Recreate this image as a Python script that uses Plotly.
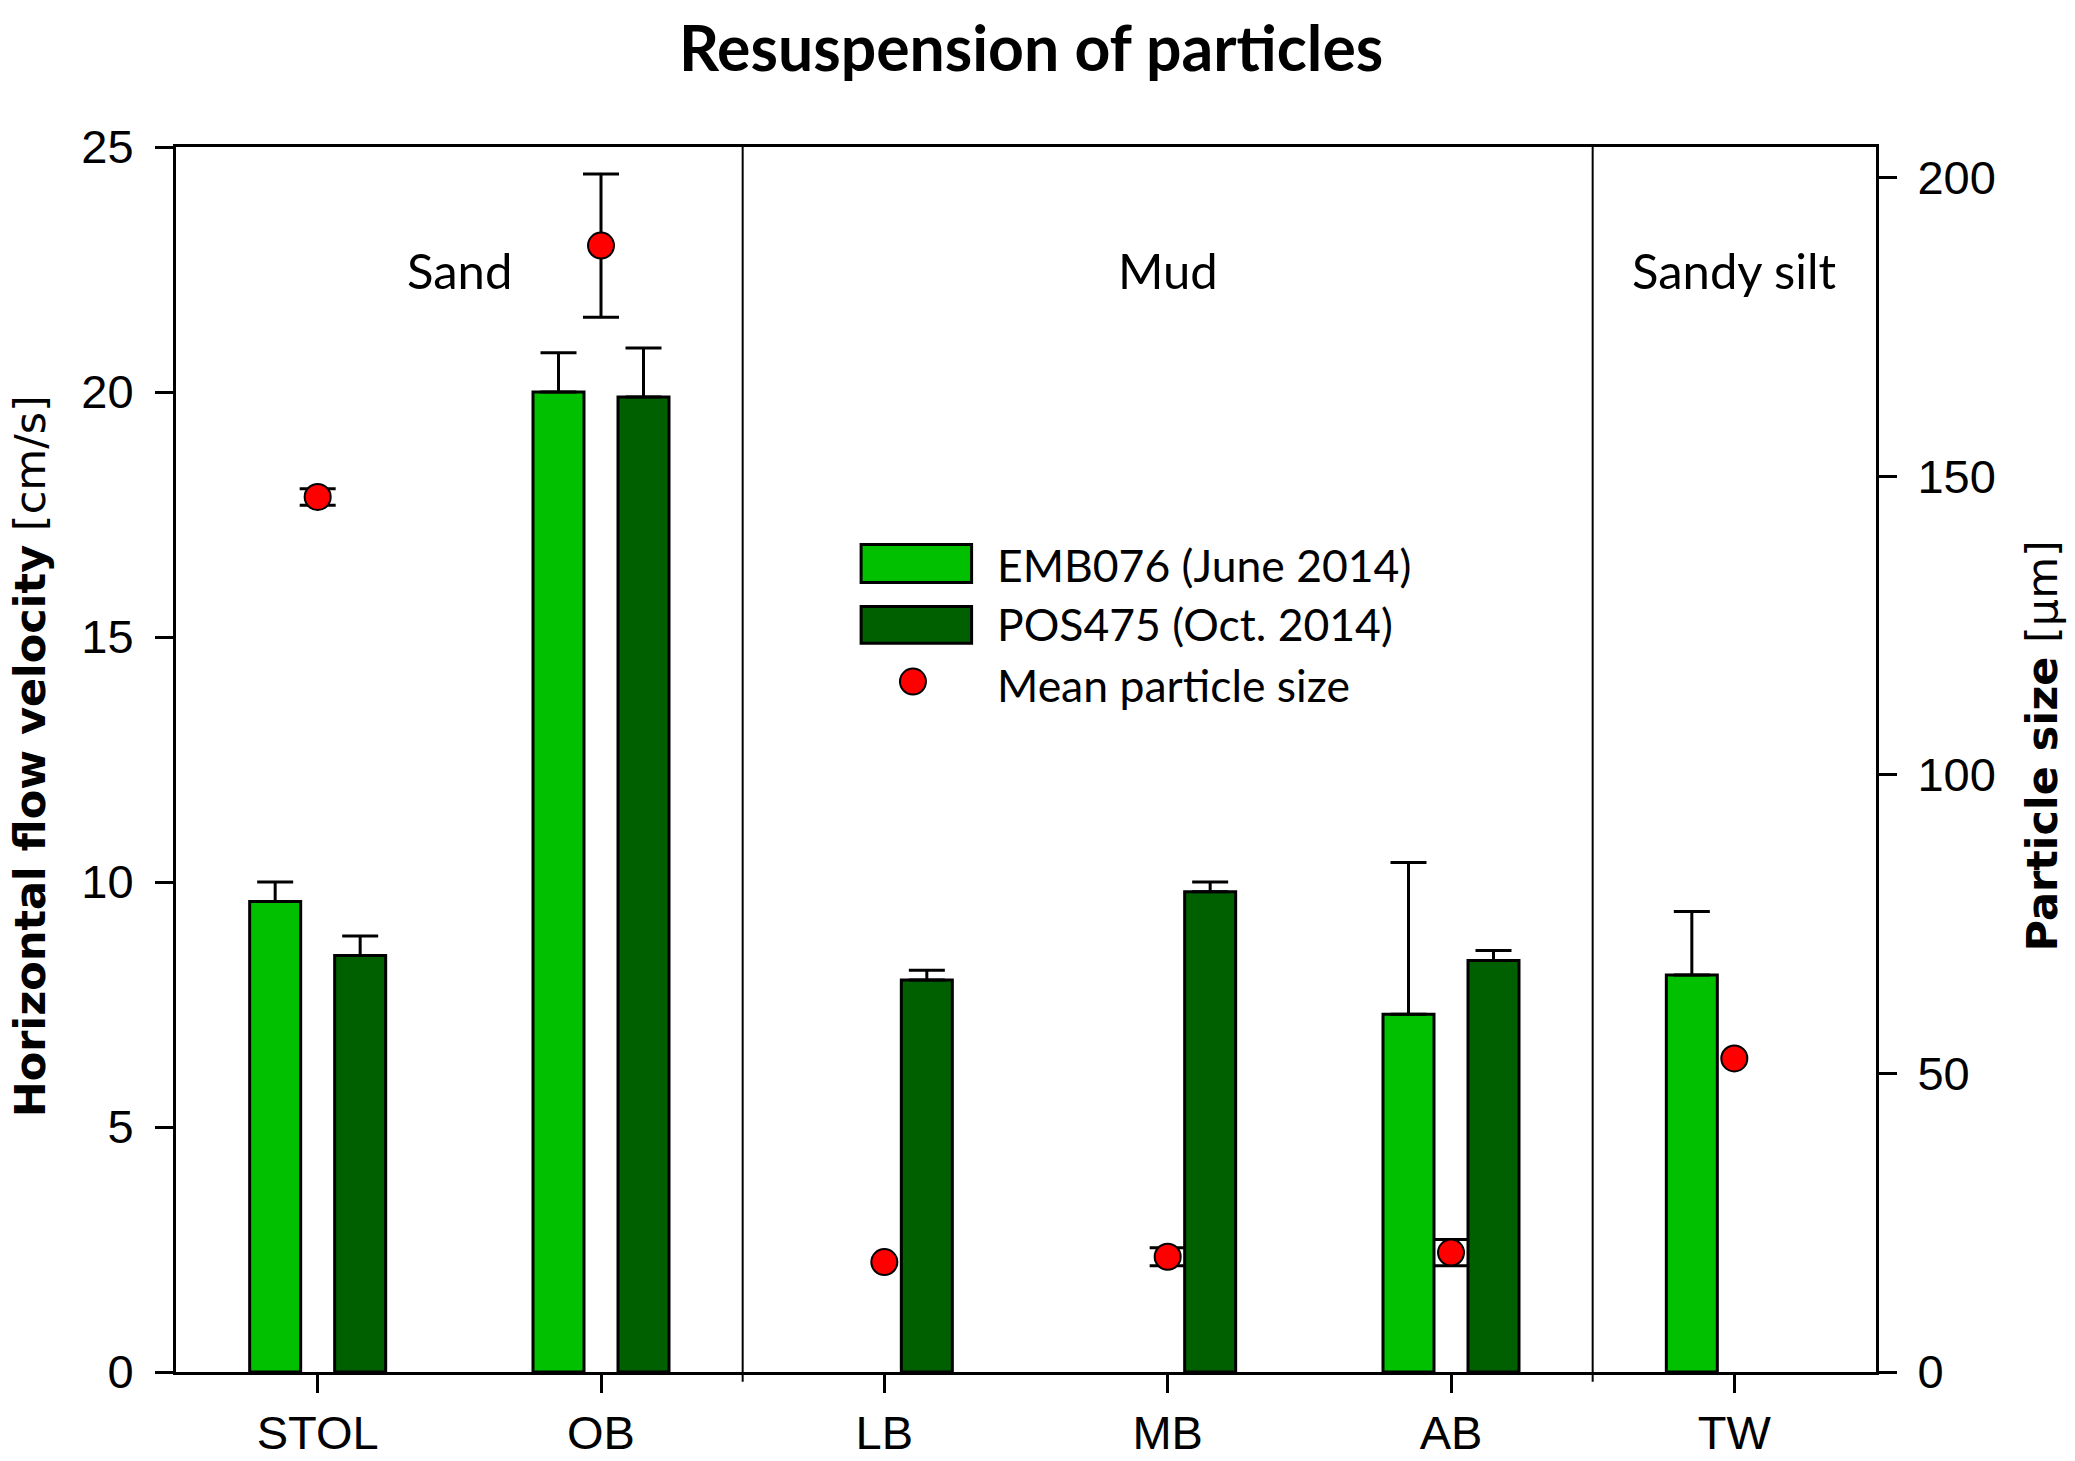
import plotly.graph_objects as go

# stations along the x axis
sites = ["STOL", "OB", "LB", "MB", "AB", "TW"]

# horizontal flow velocity needed for resuspension [cm/s]
emb076_velocity = [9.6, 20.0, None, None, 7.3, 8.1]
emb076_velocity_err = [0.4, 0.8, None, None, 3.1, 1.3]
pos475_velocity = [8.5, 19.9, 8.0, 9.8, 8.4, None]
pos475_velocity_err = [0.4, 1.0, 0.2, 0.2, 0.2, None]

# mean particle size [um]
particle_size = [146.5, 188.6, 18.4, 19.3, 20.0, 52.5]
particle_size_err = [1.4, 12.0, None, 1.5, 2.2, None]

# sediment type and how many consecutive sites belong to it
sediment_types = ["Sand", "Mud", "Sandy silt"]
sites_per_type = [2, 3, 1]

LIGHT = "#00c000"
DARK = "#006000"
RED = "#ff0000"
AXIS_FONT = dict(family="Liberation Sans, Arial", size=47, color="black")
GROUP_FONT = dict(family="Lato", size=49, color="black")
LEGEND_FONT = dict(family="Lato", size=44.5, color="black")
TITLE_FONT = dict(family="DejaVu Sans", size=43, color="black")

fig = go.Figure()

fig.add_trace(go.Bar(
    x=sites, y=emb076_velocity, name="EMB076 (June 2014)",
    marker=dict(color=LIGHT, line=dict(color="black", width=3)),
    error_y=dict(type="data", array=emb076_velocity_err, arrayminus=[0] * len(sites),
                 symmetric=False, color="black", thickness=3, width=18),
))
fig.add_trace(go.Bar(
    x=sites, y=pos475_velocity, name="POS475 (Oct. 2014)",
    marker=dict(color=DARK, line=dict(color="black", width=3)),
    error_y=dict(type="data", array=pos475_velocity_err, arrayminus=[0] * len(sites),
                 symmetric=False, color="black", thickness=3, width=18),
))

# error bars only where a spread was given, drawn under the dots
has_err = [e is not None for e in particle_size_err]
fig.add_trace(go.Scatter(
    x=[s for s, h in zip(sites, has_err) if h],
    y=[v for v, h in zip(particle_size, has_err) if h],
    mode="markers", yaxis="y2", marker=dict(size=1, opacity=0),
    error_y=dict(type="data", array=[e for e in particle_size_err if e is not None],
                 color="black", thickness=3, width=18),
    hoverinfo="skip",
))
fig.add_trace(go.Scatter(
    x=sites, y=particle_size, name="Mean particle size", mode="markers", yaxis="y2",
    marker=dict(color=RED, size=26, line=dict(color="black", width=2)),
))

# sediment type separators and labels
shapes = []
annotations = []
start = 0
for i, (label, n) in enumerate(zip(sediment_types, sites_per_type)):
    annotations.append(dict(x=start + (n - 1) / 2, y=22.5, xref="x", yref="y", text=label,
                            showarrow=False, font=GROUP_FONT))
    if i < len(sediment_types) - 1:
        shapes.append(dict(type="line", xref="x", yref="paper", x0=start + n - 0.5,
                           x1=start + n - 0.5, y0=-0.008, y1=1,
                           line=dict(color="black", width=2)))
    start += n

# hand-drawn legend, the library swatches are too small
shapes += [
    dict(type="rect", xref="paper", yref="paper", x0=0.403, x1=0.468, y0=0.6444, y1=0.6756,
         fillcolor=LIGHT, line=dict(color="black", width=3)),
    dict(type="rect", xref="paper", yref="paper", x0=0.403, x1=0.468, y0=0.5948, y1=0.625,
         fillcolor=DARK, line=dict(color="black", width=3)),
    dict(type="circle", xref="paper", yref="paper", xsizemode="pixel", ysizemode="pixel",
         xanchor=0.4335, yanchor=0.5636, x0=-13, x1=13, y0=-13, y1=13,
         fillcolor=RED, line=dict(color="black", width=2)),
]
for text, ypos in [("EMB076 (June 2014)", 0.6595), ("POS475 (Oct. 2014)", 0.611),
                   ("Mean particle size", 0.5614)]:
    annotations.append(dict(x=0.4817, y=ypos, xref="paper", yref="paper", text=text,
                            xanchor="left", yanchor="middle", showarrow=False, font=LEGEND_FONT))

# axis titles
annotations.append(dict(x=-0.0859, y=0.5027, xref="paper", yref="paper", textangle=-90,
                        xanchor="center", yanchor="middle",
                        text="<b>Horizontal flow velocity</b> [cm/s]", showarrow=False,
                        font=TITLE_FONT))
annotations.append(dict(x=1.0975, y=0.5113, xref="paper", yref="paper", textangle=-90,
                        xanchor="center", yanchor="middle",
                        text="<b>Particle size</b> [μm]", showarrow=False, font=TITLE_FONT))

fig.update_layout(
    width=2075, height=1461,
    margin=dict(l=176, r=198.5, t=147, b=89),
    paper_bgcolor="white", plot_bgcolor="white",
    title=dict(text="<b>Resuspension of particles</b>", x=0.503, xref="paper",
               y=0.9665, yanchor="middle", font=dict(family="Lato", size=62.5, color="black")),
    barmode="group", bargap=0.4, bargroupgap=0.4,
    showlegend=False,
    shapes=shapes, annotations=annotations,
    xaxis=dict(type="category", range=[-0.5, 5.5], showgrid=False, zeroline=False,
               showline=True, linecolor="black", linewidth=3, mirror=True, automargin=False,
               ticks="outside", ticklen=18, tickwidth=2.5, tickcolor="black",
               tickfont=AXIS_FONT, ticklabelstandoff=0),
    yaxis=dict(range=[0, 25], dtick=5, showgrid=False, zeroline=False, automargin=False,
               showline=True, linecolor="black", linewidth=3,
               ticks="outside", ticklen=18, tickwidth=2.5, tickcolor="black",
               tickfont=AXIS_FONT, ticklabelstandoff=12),
    yaxis2=dict(range=[0, 205.1], dtick=50, overlaying="y", side="right", showgrid=False,
                zeroline=False, showline=True, linecolor="black", linewidth=3, automargin=False,
                ticks="outside", ticklen=18, tickwidth=2.5, tickcolor="black",
                tickfont=AXIS_FONT, ticklabelstandoff=11),
)

# drop the default body margin so the figure fills the window exactly
fig.write_html("out.html", config={"displayModeBar": False}, post_script=(
    "document.documentElement.style.margin='0';"
    "document.body.style.margin='0';"
    "document.body.style.overflow='hidden';"
))
